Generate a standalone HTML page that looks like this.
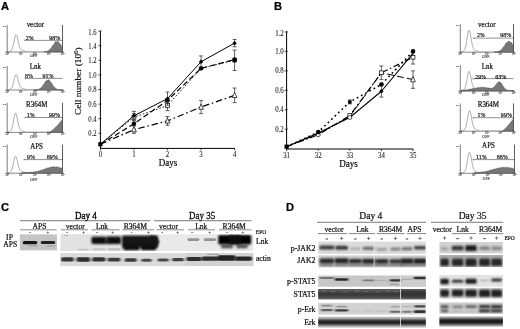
<!DOCTYPE html>
<html><head><meta charset="utf-8"><title>Figure</title>
<style>html,body{margin:0;padding:0;background:#fff}svg{display:block}</style></head>
<body>
<svg width="520" height="329" viewBox="0 0 520 329">
<defs>
<filter id="b1" x="-20%" y="-100%" width="140%" height="300%"><feGaussianBlur stdDeviation="0.7 0.5"/></filter>
<filter id="b2" x="-20%" y="-50%" width="140%" height="200%"><feGaussianBlur stdDeviation="0.9 0.8"/></filter>
<filter id="b4" x="-20%" y="-100%" width="140%" height="300%"><feGaussianBlur stdDeviation="0.9 0.65"/></filter>
<filter id="soft"><feGaussianBlur stdDeviation="0.32"/></filter>
</defs>
<rect width="520" height="329" fill="#fff"/>
<g filter="url(#soft)">
<text transform="translate(1.00,9.70) scale(1.05,1)" font-size="10.6" text-anchor="start" font-family="Liberation Sans, sans-serif" font-weight="bold" fill="#000" stroke="#000" stroke-width="0.22" >A</text>
<text transform="translate(274.00,9.70) scale(1.05,1)" font-size="10.6" text-anchor="start" font-family="Liberation Sans, sans-serif" font-weight="bold" fill="#000" stroke="#000" stroke-width="0.22" >B</text>
<text transform="translate(1.00,210.60) scale(1.05,1)" font-size="10.6" text-anchor="start" font-family="Liberation Sans, sans-serif" font-weight="bold" fill="#000" stroke="#000" stroke-width="0.22" >C</text>
<text transform="translate(286.00,210.60) scale(1.05,1)" font-size="10.6" text-anchor="start" font-family="Liberation Sans, sans-serif" font-weight="bold" fill="#000" stroke="#000" stroke-width="0.22" >D</text>
<line x1="7.20" y1="25.00" x2="7.20" y2="52.00" stroke="#444" stroke-width="0.7" />
<line x1="5.70" y1="52.00" x2="64.00" y2="52.00" stroke="#555" stroke-width="0.7" />
<line x1="62.50" y1="25.00" x2="62.50" y2="52.00" stroke="#333" stroke-width="0.8" />
<text x="3.00" y="27.20" font-size="2.8" text-anchor="start" font-family="Liberation Serif, serif" font-weight="normal" fill="#444" stroke="#444" stroke-width="0.1" >64</text>
<text x="7.20" y="54.90" font-size="3.0" text-anchor="middle" font-family="Liberation Serif, serif" font-weight="normal" fill="#444" stroke="#444" stroke-width="0.1" >10⁰</text>
<line x1="7.20" y1="52.00" x2="7.20" y2="52.90" stroke="#555" stroke-width="0.4" />
<text x="21.02" y="54.90" font-size="3.0" text-anchor="middle" font-family="Liberation Serif, serif" font-weight="normal" fill="#444" stroke="#444" stroke-width="0.1" >10¹</text>
<line x1="21.02" y1="52.00" x2="21.02" y2="52.90" stroke="#555" stroke-width="0.4" />
<text x="34.85" y="54.90" font-size="3.0" text-anchor="middle" font-family="Liberation Serif, serif" font-weight="normal" fill="#444" stroke="#444" stroke-width="0.1" >10²</text>
<line x1="34.85" y1="52.00" x2="34.85" y2="52.90" stroke="#555" stroke-width="0.4" />
<text x="48.67" y="54.90" font-size="3.0" text-anchor="middle" font-family="Liberation Serif, serif" font-weight="normal" fill="#444" stroke="#444" stroke-width="0.1" >10³</text>
<line x1="48.67" y1="52.00" x2="48.67" y2="52.90" stroke="#555" stroke-width="0.4" />
<text x="62.50" y="54.90" font-size="3.0" text-anchor="middle" font-family="Liberation Serif, serif" font-weight="normal" fill="#444" stroke="#444" stroke-width="0.1" >10⁴</text>
<line x1="62.50" y1="52.00" x2="62.50" y2="52.90" stroke="#555" stroke-width="0.4" />
<text x="33.85" y="57.00" font-size="3.9" text-anchor="middle" font-family="Liberation Serif, serif" font-weight="normal" fill="#333" stroke="#333" stroke-width="0.1" >GFP</text>
<polyline points="8.00,51.49 8.45,51.48 8.90,51.46 9.35,51.43 9.80,51.35 10.25,51.22 10.70,50.99 11.15,50.60 11.60,50.01 12.05,49.12 12.50,47.90 12.95,46.31 13.40,44.38 13.85,42.21 14.30,39.95 14.75,37.84 15.20,36.12 15.65,35.02 16.10,34.67 16.55,35.11 17.00,36.27 17.45,37.98 17.90,39.99 18.35,42.07 18.80,44.03 19.25,45.73 19.70,47.11 20.15,48.17 20.60,48.95 21.05,49.51 21.50,49.90 21.95,50.19 22.40,50.41 22.85,50.59 23.30,50.74 23.75,50.87 24.20,50.99 24.65,51.09 25.10,51.18 25.55,51.25 26.00,51.31" fill="none" stroke="#888" stroke-width="0.7"/>
<line x1="26.00" y1="51.40" x2="48.50" y2="51.40" stroke="#aaa" stroke-width="0.5" />
<polygon points="44.00,52.00 44.00,51.91 44.46,51.87 44.92,51.83 45.39,51.78 45.85,51.70 46.31,51.59 46.77,51.44 47.24,51.27 47.70,51.09 48.16,50.88 48.62,50.62 49.09,50.23 49.55,49.76 50.01,49.27 50.48,48.84 50.94,48.42 51.40,47.86 51.86,47.05 52.33,46.14 52.79,45.39 53.25,44.94 53.71,44.57 54.17,43.97 54.64,43.04 55.10,42.13 55.56,41.70 56.02,41.80 56.49,42.02 56.95,41.91 57.41,41.50 57.88,41.28 58.34,41.65 58.80,42.49 59.26,43.32 59.73,43.79 60.19,44.05 60.65,44.49 61.11,45.28 61.58,46.26 62.04,47.10 62.50,47.68 62.50,52.00" fill="#777" stroke="#444" stroke-width="0.5"/>
<line x1="24.40" y1="40.40" x2="62.50" y2="40.40" stroke="#222" stroke-width="0.5" />
<line x1="24.40" y1="39.60" x2="24.40" y2="41.20" stroke="#444" stroke-width="0.5" />
<text transform="translate(35.35,27.00) scale(0.92,1)" font-size="7.6" text-anchor="middle" font-family="Liberation Serif, serif" font-weight="normal" fill="#111" stroke="#111" stroke-width="0.22" >vector</text>
<text transform="translate(29.60,39.50) scale(0.9,1)" font-size="6.5" text-anchor="middle" font-family="Liberation Serif, serif" font-weight="normal" fill="#111" stroke="#111" stroke-width="0.22" >2%</text>
<text transform="translate(54.80,39.50) scale(0.93,1)" font-size="6.5" text-anchor="middle" font-family="Liberation Serif, serif" font-weight="normal" fill="#111" stroke="#111" stroke-width="0.22" >98%</text>
<line x1="7.20" y1="66.00" x2="7.20" y2="90.00" stroke="#444" stroke-width="0.7" />
<line x1="5.70" y1="90.00" x2="64.00" y2="90.00" stroke="#555" stroke-width="0.7" />
<text x="3.00" y="68.20" font-size="2.8" text-anchor="start" font-family="Liberation Serif, serif" font-weight="normal" fill="#444" stroke="#444" stroke-width="0.1" >64</text>
<text x="7.20" y="92.90" font-size="3.0" text-anchor="middle" font-family="Liberation Serif, serif" font-weight="normal" fill="#444" stroke="#444" stroke-width="0.1" >10⁰</text>
<line x1="7.20" y1="90.00" x2="7.20" y2="90.90" stroke="#555" stroke-width="0.4" />
<text x="21.02" y="92.90" font-size="3.0" text-anchor="middle" font-family="Liberation Serif, serif" font-weight="normal" fill="#444" stroke="#444" stroke-width="0.1" >10¹</text>
<line x1="21.02" y1="90.00" x2="21.02" y2="90.90" stroke="#555" stroke-width="0.4" />
<text x="34.85" y="92.90" font-size="3.0" text-anchor="middle" font-family="Liberation Serif, serif" font-weight="normal" fill="#444" stroke="#444" stroke-width="0.1" >10²</text>
<line x1="34.85" y1="90.00" x2="34.85" y2="90.90" stroke="#555" stroke-width="0.4" />
<text x="48.67" y="92.90" font-size="3.0" text-anchor="middle" font-family="Liberation Serif, serif" font-weight="normal" fill="#444" stroke="#444" stroke-width="0.1" >10³</text>
<line x1="48.67" y1="90.00" x2="48.67" y2="90.90" stroke="#555" stroke-width="0.4" />
<text x="62.50" y="92.90" font-size="3.0" text-anchor="middle" font-family="Liberation Serif, serif" font-weight="normal" fill="#444" stroke="#444" stroke-width="0.1" >10⁴</text>
<line x1="62.50" y1="90.00" x2="62.50" y2="90.90" stroke="#555" stroke-width="0.4" />
<text x="33.85" y="95.60" font-size="3.9" text-anchor="middle" font-family="Liberation Serif, serif" font-weight="normal" fill="#333" stroke="#333" stroke-width="0.1" >GFP</text>
<polyline points="8.00,89.49 8.45,89.48 8.90,89.47 9.35,89.43 9.80,89.37 10.25,89.25 10.70,89.05 11.15,88.71 11.60,88.18 12.05,87.41 12.50,86.34 12.95,84.94 13.40,83.24 13.85,81.33 14.30,79.34 14.75,77.49 15.20,75.97 15.65,74.99 16.10,74.66 16.55,75.04 17.00,76.04 17.45,77.51 17.90,79.26 18.35,81.07 18.80,82.78 19.25,84.27 19.70,85.47 20.15,86.40 20.60,87.09 21.05,87.59 21.50,87.95 21.95,88.21 22.40,88.42 22.85,88.59 23.30,88.74 23.75,88.87 24.20,88.99 24.65,89.09 25.10,89.18 25.55,89.25 26.00,89.31" fill="none" stroke="#888" stroke-width="0.7"/>
<line x1="26.00" y1="89.40" x2="48.50" y2="89.40" stroke="#aaa" stroke-width="0.5" />
<polygon points="34.00,90.00 34.00,89.98 34.71,89.96 35.42,89.93 36.14,89.87 36.85,89.79 37.56,89.67 38.27,89.50 38.99,89.20 39.70,88.79 40.41,88.35 41.12,87.81 41.84,86.96 42.55,85.89 43.26,84.99 43.98,84.20 44.69,83.01 45.40,81.62 46.11,80.87 46.83,80.73 47.54,80.32 48.25,79.73 48.96,79.99 49.67,81.06 50.39,81.91 51.10,82.45 51.81,83.42 52.52,84.80 53.24,85.92 53.95,86.67 54.66,87.40 55.38,88.18 56.09,88.76 56.80,89.11 57.51,89.39 58.23,89.62 58.94,89.77 59.65,89.86 60.36,89.91 61.08,89.95 61.79,89.97 62.50,89.99 62.50,90.00" fill="#777" stroke="#444" stroke-width="0.5"/>
<line x1="25.00" y1="78.40" x2="62.50" y2="78.40" stroke="#222" stroke-width="0.5" />
<line x1="25.00" y1="77.60" x2="25.00" y2="79.20" stroke="#444" stroke-width="0.5" />
<text transform="translate(35.35,68.60) scale(0.92,1)" font-size="7.6" text-anchor="middle" font-family="Liberation Serif, serif" font-weight="normal" fill="#111" stroke="#111" stroke-width="0.22" >Lnk</text>
<text transform="translate(29.00,78.30) scale(0.9,1)" font-size="6.5" text-anchor="middle" font-family="Liberation Serif, serif" font-weight="normal" fill="#111" stroke="#111" stroke-width="0.22" >8%</text>
<text transform="translate(48.00,78.30) scale(0.93,1)" font-size="6.5" text-anchor="middle" font-family="Liberation Serif, serif" font-weight="normal" fill="#111" stroke="#111" stroke-width="0.22" >91%</text>
<line x1="7.20" y1="102.80" x2="7.20" y2="132.40" stroke="#444" stroke-width="0.7" />
<line x1="5.70" y1="132.40" x2="64.00" y2="132.40" stroke="#555" stroke-width="0.7" />
<line x1="62.50" y1="102.80" x2="62.50" y2="132.40" stroke="#333" stroke-width="0.8" />
<text x="3.00" y="105.00" font-size="2.8" text-anchor="start" font-family="Liberation Serif, serif" font-weight="normal" fill="#444" stroke="#444" stroke-width="0.1" >64</text>
<text x="7.20" y="135.30" font-size="3.0" text-anchor="middle" font-family="Liberation Serif, serif" font-weight="normal" fill="#444" stroke="#444" stroke-width="0.1" >10⁰</text>
<line x1="7.20" y1="132.40" x2="7.20" y2="133.30" stroke="#555" stroke-width="0.4" />
<text x="21.02" y="135.30" font-size="3.0" text-anchor="middle" font-family="Liberation Serif, serif" font-weight="normal" fill="#444" stroke="#444" stroke-width="0.1" >10¹</text>
<line x1="21.02" y1="132.40" x2="21.02" y2="133.30" stroke="#555" stroke-width="0.4" />
<text x="34.85" y="135.30" font-size="3.0" text-anchor="middle" font-family="Liberation Serif, serif" font-weight="normal" fill="#444" stroke="#444" stroke-width="0.1" >10²</text>
<line x1="34.85" y1="132.40" x2="34.85" y2="133.30" stroke="#555" stroke-width="0.4" />
<text x="48.67" y="135.30" font-size="3.0" text-anchor="middle" font-family="Liberation Serif, serif" font-weight="normal" fill="#444" stroke="#444" stroke-width="0.1" >10³</text>
<line x1="48.67" y1="132.40" x2="48.67" y2="133.30" stroke="#555" stroke-width="0.4" />
<text x="62.50" y="135.30" font-size="3.0" text-anchor="middle" font-family="Liberation Serif, serif" font-weight="normal" fill="#444" stroke="#444" stroke-width="0.1" >10⁴</text>
<line x1="62.50" y1="132.40" x2="62.50" y2="133.30" stroke="#555" stroke-width="0.4" />
<text x="33.85" y="137.80" font-size="3.9" text-anchor="middle" font-family="Liberation Serif, serif" font-weight="normal" fill="#333" stroke="#333" stroke-width="0.1" >GFP</text>
<polyline points="8.00,131.88 8.44,131.86 8.88,131.82 9.31,131.74 9.75,131.59 10.19,131.34 10.62,130.93 11.06,130.30 11.50,129.38 11.94,128.11 12.38,126.44 12.81,124.41 13.25,122.09 13.69,119.65 14.12,117.30 14.56,115.29 15.00,113.86 15.44,113.20 15.88,113.38 16.31,114.36 16.75,116.00 17.19,118.08 17.62,120.35 18.06,122.59 18.50,124.61 18.94,126.31 19.38,127.67 19.81,128.70 20.25,129.44 20.69,129.98 21.12,130.35 21.56,130.63 22.00,130.84 22.44,131.01 22.88,131.16 23.31,131.29 23.75,131.40 24.19,131.50 24.62,131.58 25.06,131.65 25.50,131.71" fill="none" stroke="#888" stroke-width="0.7"/>
<line x1="25.50" y1="131.80" x2="48.50" y2="131.80" stroke="#aaa" stroke-width="0.5" />
<polygon points="47.00,132.40 47.00,132.00 47.39,132.00 47.77,132.00 48.16,132.00 48.55,132.00 48.94,132.00 49.33,132.00 49.71,131.94 50.10,131.77 50.49,131.56 50.88,131.32 51.26,131.06 51.65,130.79 52.04,130.49 52.42,130.19 52.81,129.87 53.20,129.54 53.59,129.20 53.98,128.85 54.36,128.49 54.75,128.12 55.14,127.75 55.52,127.36 55.91,126.97 56.30,126.57 56.69,126.17 57.08,125.76 57.46,125.34 57.85,124.91 58.24,124.48 58.62,124.05 59.01,123.60 59.40,123.16 59.79,122.71 60.17,122.25 60.56,121.78 60.95,121.32 61.34,120.84 61.73,120.37 62.11,119.89 62.50,119.40 62.50,132.40" fill="#777" stroke="#444" stroke-width="0.5"/>
<line x1="25.00" y1="117.50" x2="62.50" y2="117.50" stroke="#222" stroke-width="0.5" />
<line x1="25.00" y1="116.70" x2="25.00" y2="118.30" stroke="#444" stroke-width="0.5" />
<text transform="translate(36.75,107.00) scale(0.92,1)" font-size="7.6" text-anchor="middle" font-family="Liberation Serif, serif" font-weight="normal" fill="#111" stroke="#111" stroke-width="0.22" >R364M</text>
<text transform="translate(30.60,116.60) scale(0.9,1)" font-size="6.5" text-anchor="middle" font-family="Liberation Serif, serif" font-weight="normal" fill="#111" stroke="#111" stroke-width="0.22" >1%</text>
<text transform="translate(54.60,116.60) scale(0.93,1)" font-size="6.5" text-anchor="middle" font-family="Liberation Serif, serif" font-weight="normal" fill="#111" stroke="#111" stroke-width="0.22" >99%</text>
<line x1="7.20" y1="144.60" x2="7.20" y2="173.20" stroke="#444" stroke-width="0.7" />
<line x1="5.70" y1="173.20" x2="64.00" y2="173.20" stroke="#555" stroke-width="0.7" />
<line x1="62.50" y1="144.60" x2="62.50" y2="173.20" stroke="#333" stroke-width="0.8" />
<text x="3.00" y="146.80" font-size="2.8" text-anchor="start" font-family="Liberation Serif, serif" font-weight="normal" fill="#444" stroke="#444" stroke-width="0.1" >64</text>
<text x="7.20" y="176.10" font-size="3.0" text-anchor="middle" font-family="Liberation Serif, serif" font-weight="normal" fill="#444" stroke="#444" stroke-width="0.1" >10⁰</text>
<line x1="7.20" y1="173.20" x2="7.20" y2="174.10" stroke="#555" stroke-width="0.4" />
<text x="21.02" y="176.10" font-size="3.0" text-anchor="middle" font-family="Liberation Serif, serif" font-weight="normal" fill="#444" stroke="#444" stroke-width="0.1" >10¹</text>
<line x1="21.02" y1="173.20" x2="21.02" y2="174.10" stroke="#555" stroke-width="0.4" />
<text x="34.85" y="176.10" font-size="3.0" text-anchor="middle" font-family="Liberation Serif, serif" font-weight="normal" fill="#444" stroke="#444" stroke-width="0.1" >10²</text>
<line x1="34.85" y1="173.20" x2="34.85" y2="174.10" stroke="#555" stroke-width="0.4" />
<text x="48.67" y="176.10" font-size="3.0" text-anchor="middle" font-family="Liberation Serif, serif" font-weight="normal" fill="#444" stroke="#444" stroke-width="0.1" >10³</text>
<line x1="48.67" y1="173.20" x2="48.67" y2="174.10" stroke="#555" stroke-width="0.4" />
<text x="62.50" y="176.10" font-size="3.0" text-anchor="middle" font-family="Liberation Serif, serif" font-weight="normal" fill="#444" stroke="#444" stroke-width="0.1" >10⁴</text>
<line x1="62.50" y1="173.20" x2="62.50" y2="174.10" stroke="#555" stroke-width="0.4" />
<text x="33.85" y="180.60" font-size="3.9" text-anchor="middle" font-family="Liberation Serif, serif" font-weight="normal" fill="#333" stroke="#333" stroke-width="0.1" >GFP</text>
<polyline points="8.00,172.68 8.44,172.66 8.88,172.62 9.31,172.55 9.75,172.43 10.19,172.21 10.62,171.85 11.06,171.29 11.50,170.48 11.94,169.36 12.38,167.89 12.81,166.10 13.25,164.06 13.69,161.91 14.12,159.83 14.56,158.06 15.00,156.80 15.44,156.20 15.88,156.34 16.31,157.19 16.75,158.61 17.19,160.42 17.62,162.40 18.06,164.35 18.50,166.12 18.94,167.62 19.38,168.81 19.81,169.71 20.25,170.37 20.69,170.85 21.12,171.20 21.56,171.45 22.00,171.65 22.44,171.82 22.88,171.96 23.31,172.09 23.75,172.20 24.19,172.30 24.62,172.38 25.06,172.45 25.50,172.51" fill="none" stroke="#888" stroke-width="0.7"/>
<line x1="25.50" y1="172.60" x2="48.50" y2="172.60" stroke="#aaa" stroke-width="0.5" />
<polygon points="22.00,173.20 22.00,172.57 23.01,172.88 24.02,172.33 25.04,172.97 26.05,172.27 27.06,172.82 28.07,172.39 29.09,172.47 30.10,172.54 31.11,172.07 32.12,172.55 33.14,171.76 34.15,172.28 35.16,171.58 36.17,171.72 37.19,171.45 38.20,170.99 39.21,171.18 40.23,170.26 41.24,170.64 42.25,169.67 43.26,169.80 44.27,169.20 45.29,168.82 46.30,168.77 47.31,167.91 48.33,168.25 49.34,167.29 50.35,167.64 51.36,167.03 52.38,167.04 53.39,167.06 54.40,166.66 55.41,167.25 56.42,166.66 57.44,167.46 58.45,167.10 59.46,167.68 60.48,167.88 61.49,167.99 62.50,168.76 62.50,173.20" fill="#777" stroke="#444" stroke-width="0.5"/>
<line x1="24.00" y1="159.60" x2="62.50" y2="159.60" stroke="#222" stroke-width="0.5" />
<line x1="24.00" y1="158.80" x2="24.00" y2="160.40" stroke="#444" stroke-width="0.5" />
<text transform="translate(36.55,148.60) scale(0.92,1)" font-size="7.6" text-anchor="middle" font-family="Liberation Serif, serif" font-weight="normal" fill="#111" stroke="#111" stroke-width="0.22" >APS</text>
<text transform="translate(31.00,158.70) scale(0.9,1)" font-size="6.5" text-anchor="middle" font-family="Liberation Serif, serif" font-weight="normal" fill="#111" stroke="#111" stroke-width="0.22" >9%</text>
<text transform="translate(52.20,158.70) scale(0.93,1)" font-size="6.5" text-anchor="middle" font-family="Liberation Serif, serif" font-weight="normal" fill="#111" stroke="#111" stroke-width="0.22" >89%</text>
<line x1="460.30" y1="24.00" x2="460.30" y2="52.20" stroke="#444" stroke-width="0.7" />
<line x1="458.80" y1="52.20" x2="515.00" y2="52.20" stroke="#555" stroke-width="0.7" />
<line x1="513.50" y1="24.00" x2="513.50" y2="52.20" stroke="#333" stroke-width="0.8" />
<text x="456.10" y="26.20" font-size="2.8" text-anchor="start" font-family="Liberation Serif, serif" font-weight="normal" fill="#444" stroke="#444" stroke-width="0.1" >64</text>
<text x="460.30" y="55.10" font-size="3.0" text-anchor="middle" font-family="Liberation Serif, serif" font-weight="normal" fill="#444" stroke="#444" stroke-width="0.1" >10⁰</text>
<line x1="460.30" y1="52.20" x2="460.30" y2="53.10" stroke="#555" stroke-width="0.4" />
<text x="473.60" y="55.10" font-size="3.0" text-anchor="middle" font-family="Liberation Serif, serif" font-weight="normal" fill="#444" stroke="#444" stroke-width="0.1" >10¹</text>
<line x1="473.60" y1="52.20" x2="473.60" y2="53.10" stroke="#555" stroke-width="0.4" />
<text x="486.90" y="55.10" font-size="3.0" text-anchor="middle" font-family="Liberation Serif, serif" font-weight="normal" fill="#444" stroke="#444" stroke-width="0.1" >10²</text>
<line x1="486.90" y1="52.20" x2="486.90" y2="53.10" stroke="#555" stroke-width="0.4" />
<text x="500.20" y="55.10" font-size="3.0" text-anchor="middle" font-family="Liberation Serif, serif" font-weight="normal" fill="#444" stroke="#444" stroke-width="0.1" >10³</text>
<line x1="500.20" y1="52.20" x2="500.20" y2="53.10" stroke="#555" stroke-width="0.4" />
<text x="513.50" y="55.10" font-size="3.0" text-anchor="middle" font-family="Liberation Serif, serif" font-weight="normal" fill="#444" stroke="#444" stroke-width="0.1" >10⁴</text>
<line x1="513.50" y1="52.20" x2="513.50" y2="53.10" stroke="#555" stroke-width="0.4" />
<text x="485.90" y="58.10" font-size="3.9" text-anchor="middle" font-family="Liberation Serif, serif" font-weight="normal" fill="#333" stroke="#333" stroke-width="0.1" >GFP</text>
<polyline points="461.10,51.69 461.55,51.68 462.00,51.65 462.44,51.59 462.89,51.49 463.34,51.30 463.79,50.98 464.23,50.44 464.68,49.63 465.13,48.43 465.58,46.80 466.02,44.71 466.47,42.19 466.92,39.39 467.37,36.54 467.81,33.92 468.26,31.84 468.71,30.58 469.16,30.29 469.60,31.02 470.05,32.63 470.50,34.90 470.94,37.53 471.39,40.21 471.84,42.72 472.29,44.87 472.74,46.60 473.18,47.92 473.63,48.88 474.08,49.55 474.53,50.02 474.97,50.35 475.42,50.59 475.87,50.78 476.31,50.94 476.76,51.07 477.21,51.19 477.66,51.29 478.11,51.38 478.55,51.45 479.00,51.51" fill="none" stroke="#888" stroke-width="0.7"/>
<line x1="479.00" y1="51.60" x2="499.50" y2="51.60" stroke="#aaa" stroke-width="0.5" />
<polygon points="494.00,52.20 494.00,52.16 494.49,52.14 494.98,52.12 495.46,52.08 495.95,52.04 496.44,51.98 496.93,51.91 497.41,51.80 497.90,51.67 498.39,51.52 498.88,51.35 499.36,51.14 499.85,50.84 500.34,50.47 500.82,50.07 501.31,49.69 501.80,49.29 502.29,48.74 502.77,48.01 503.26,47.23 503.75,46.61 504.24,46.15 504.73,45.60 505.21,44.75 505.70,43.71 506.19,42.94 506.68,42.67 507.16,42.63 507.65,42.29 508.14,41.58 508.62,40.98 509.11,41.03 509.60,41.63 510.09,42.18 510.57,42.32 511.06,42.27 511.55,42.59 512.04,43.45 512.52,44.47 513.01,45.23 513.50,45.70 513.50,52.20" fill="#777" stroke="#444" stroke-width="0.5"/>
<line x1="473.50" y1="38.10" x2="513.50" y2="38.10" stroke="#222" stroke-width="0.5" />
<line x1="473.50" y1="37.30" x2="473.50" y2="38.90" stroke="#444" stroke-width="0.5" />
<text transform="translate(486.80,27.00) scale(0.92,1)" font-size="7.6" text-anchor="middle" font-family="Liberation Serif, serif" font-weight="normal" fill="#111" stroke="#111" stroke-width="0.22" >vector</text>
<text transform="translate(480.80,37.20) scale(0.9,1)" font-size="6.5" text-anchor="middle" font-family="Liberation Serif, serif" font-weight="normal" fill="#111" stroke="#111" stroke-width="0.22" >2%</text>
<text transform="translate(505.80,37.20) scale(0.93,1)" font-size="6.5" text-anchor="middle" font-family="Liberation Serif, serif" font-weight="normal" fill="#111" stroke="#111" stroke-width="0.22" >98%</text>
<line x1="460.30" y1="65.00" x2="460.30" y2="91.00" stroke="#444" stroke-width="0.7" />
<line x1="458.80" y1="91.00" x2="515.00" y2="91.00" stroke="#555" stroke-width="0.7" />
<text x="456.10" y="67.20" font-size="2.8" text-anchor="start" font-family="Liberation Serif, serif" font-weight="normal" fill="#444" stroke="#444" stroke-width="0.1" >64</text>
<text x="460.30" y="93.90" font-size="3.0" text-anchor="middle" font-family="Liberation Serif, serif" font-weight="normal" fill="#444" stroke="#444" stroke-width="0.1" >10⁰</text>
<line x1="460.30" y1="91.00" x2="460.30" y2="91.90" stroke="#555" stroke-width="0.4" />
<text x="473.60" y="93.90" font-size="3.0" text-anchor="middle" font-family="Liberation Serif, serif" font-weight="normal" fill="#444" stroke="#444" stroke-width="0.1" >10¹</text>
<line x1="473.60" y1="91.00" x2="473.60" y2="91.90" stroke="#555" stroke-width="0.4" />
<text x="486.90" y="93.90" font-size="3.0" text-anchor="middle" font-family="Liberation Serif, serif" font-weight="normal" fill="#444" stroke="#444" stroke-width="0.1" >10²</text>
<line x1="486.90" y1="91.00" x2="486.90" y2="91.90" stroke="#555" stroke-width="0.4" />
<text x="500.20" y="93.90" font-size="3.0" text-anchor="middle" font-family="Liberation Serif, serif" font-weight="normal" fill="#444" stroke="#444" stroke-width="0.1" >10³</text>
<line x1="500.20" y1="91.00" x2="500.20" y2="91.90" stroke="#555" stroke-width="0.4" />
<text x="513.50" y="93.90" font-size="3.0" text-anchor="middle" font-family="Liberation Serif, serif" font-weight="normal" fill="#444" stroke="#444" stroke-width="0.1" >10⁴</text>
<line x1="513.50" y1="91.00" x2="513.50" y2="91.90" stroke="#555" stroke-width="0.4" />
<text x="485.90" y="96.40" font-size="3.9" text-anchor="middle" font-family="Liberation Serif, serif" font-weight="normal" fill="#333" stroke="#333" stroke-width="0.1" >GFP</text>
<polyline points="461.10,90.49 461.55,90.48 462.00,90.45 462.44,90.40 462.89,90.31 463.34,90.14 463.79,89.85 464.23,89.38 464.68,88.65 465.13,87.59 465.58,86.13 466.02,84.26 466.47,82.02 466.92,79.53 467.37,76.98 467.81,74.64 468.26,72.79 468.71,71.65 469.16,71.39 469.60,72.02 470.05,73.44 470.50,75.44 470.94,77.76 471.39,80.14 471.84,82.35 472.29,84.26 472.74,85.80 473.18,86.98 473.63,87.84 474.08,88.44 474.53,88.87 474.97,89.18 475.42,89.40 475.87,89.59 476.31,89.74 476.76,89.87 477.21,89.99 477.66,90.09 478.11,90.18 478.55,90.25 479.00,90.31" fill="none" stroke="#888" stroke-width="0.7"/>
<line x1="479.00" y1="90.40" x2="499.50" y2="90.40" stroke="#aaa" stroke-width="0.5" />
<polygon points="461.00,91.00 461.00,90.37 462.31,90.33 463.62,90.19 464.94,90.07 466.25,89.92 467.56,89.68 468.88,89.56 470.19,89.15 471.50,89.12 472.81,88.52 474.12,88.64 475.44,87.89 476.75,88.18 478.06,87.40 479.38,87.83 480.69,87.15 482.00,87.67 483.31,87.20 484.62,87.74 485.94,87.52 487.25,88.02 488.56,88.02 489.88,88.37 491.19,88.33 492.50,88.13 493.81,87.33 495.12,85.95 496.44,84.16 497.75,82.52 499.06,81.80 500.38,82.35 501.69,84.03 503.00,86.13 504.31,88.02 505.62,89.32 506.94,90.05 508.25,90.39 509.56,90.52 510.88,90.57 512.19,90.59 513.50,90.59 513.50,91.00" fill="#777" stroke="#444" stroke-width="0.5"/>
<line x1="473.00" y1="78.60" x2="513.50" y2="78.60" stroke="#222" stroke-width="0.5" />
<line x1="473.00" y1="77.80" x2="473.00" y2="79.40" stroke="#444" stroke-width="0.5" />
<text transform="translate(487.40,68.60) scale(0.92,1)" font-size="7.6" text-anchor="middle" font-family="Liberation Serif, serif" font-weight="normal" fill="#111" stroke="#111" stroke-width="0.22" >Lnk</text>
<text transform="translate(480.60,78.50) scale(0.9,1)" font-size="6.5" text-anchor="middle" font-family="Liberation Serif, serif" font-weight="normal" fill="#111" stroke="#111" stroke-width="0.22" >29%</text>
<text transform="translate(500.80,78.50) scale(0.93,1)" font-size="6.5" text-anchor="middle" font-family="Liberation Serif, serif" font-weight="normal" fill="#111" stroke="#111" stroke-width="0.22" >63%</text>
<line x1="460.30" y1="103.40" x2="460.30" y2="131.20" stroke="#444" stroke-width="0.7" />
<line x1="458.80" y1="131.20" x2="515.00" y2="131.20" stroke="#555" stroke-width="0.7" />
<line x1="513.50" y1="103.40" x2="513.50" y2="131.20" stroke="#333" stroke-width="0.8" />
<text x="456.10" y="105.60" font-size="2.8" text-anchor="start" font-family="Liberation Serif, serif" font-weight="normal" fill="#444" stroke="#444" stroke-width="0.1" >64</text>
<text x="460.30" y="134.10" font-size="3.0" text-anchor="middle" font-family="Liberation Serif, serif" font-weight="normal" fill="#444" stroke="#444" stroke-width="0.1" >10⁰</text>
<line x1="460.30" y1="131.20" x2="460.30" y2="132.10" stroke="#555" stroke-width="0.4" />
<text x="473.60" y="134.10" font-size="3.0" text-anchor="middle" font-family="Liberation Serif, serif" font-weight="normal" fill="#444" stroke="#444" stroke-width="0.1" >10¹</text>
<line x1="473.60" y1="131.20" x2="473.60" y2="132.10" stroke="#555" stroke-width="0.4" />
<text x="486.90" y="134.10" font-size="3.0" text-anchor="middle" font-family="Liberation Serif, serif" font-weight="normal" fill="#444" stroke="#444" stroke-width="0.1" >10²</text>
<line x1="486.90" y1="131.20" x2="486.90" y2="132.10" stroke="#555" stroke-width="0.4" />
<text x="500.20" y="134.10" font-size="3.0" text-anchor="middle" font-family="Liberation Serif, serif" font-weight="normal" fill="#444" stroke="#444" stroke-width="0.1" >10³</text>
<line x1="500.20" y1="131.20" x2="500.20" y2="132.10" stroke="#555" stroke-width="0.4" />
<text x="513.50" y="134.10" font-size="3.0" text-anchor="middle" font-family="Liberation Serif, serif" font-weight="normal" fill="#444" stroke="#444" stroke-width="0.1" >10⁴</text>
<line x1="513.50" y1="131.20" x2="513.50" y2="132.10" stroke="#555" stroke-width="0.4" />
<text x="485.90" y="137.90" font-size="3.9" text-anchor="middle" font-family="Liberation Serif, serif" font-weight="normal" fill="#333" stroke="#333" stroke-width="0.1" >GFP</text>
<polyline points="461.10,130.70 461.56,130.69 462.02,130.68 462.48,130.65 462.94,130.60 463.40,130.50 463.86,130.31 464.32,129.99 464.78,129.46 465.24,128.63 465.70,127.43 466.16,125.79 466.62,123.69 467.08,121.20 467.54,118.47 468.00,115.76 468.46,113.38 468.92,111.63 469.38,110.74 469.84,110.85 470.30,111.93 470.76,113.78 471.22,116.15 471.68,118.72 472.14,121.22 472.60,123.44 473.06,125.26 473.52,126.67 473.98,127.71 474.44,128.44 474.90,128.94 475.36,129.29 475.82,129.55 476.28,129.75 476.74,129.91 477.20,130.05 477.66,130.18 478.12,130.28 478.58,130.37 479.04,130.45 479.50,130.51" fill="none" stroke="#888" stroke-width="0.7"/>
<line x1="479.50" y1="130.60" x2="499.50" y2="130.60" stroke="#aaa" stroke-width="0.5" />
<polygon points="501.00,131.20 501.00,131.20 501.31,131.20 501.62,131.20 501.94,131.20 502.25,131.10 502.56,130.91 502.88,130.70 503.19,130.47 503.50,130.22 503.81,129.96 504.12,129.69 504.44,129.40 504.75,129.11 505.06,128.81 505.38,128.50 505.69,128.18 506.00,127.86 506.31,127.53 506.62,127.20 506.94,126.86 507.25,126.51 507.56,126.16 507.88,125.80 508.19,125.44 508.50,125.07 508.81,124.70 509.12,124.33 509.44,123.95 509.75,123.57 510.06,123.18 510.38,122.79 510.69,122.40 511.00,122.00 511.31,121.60 511.62,121.19 511.94,120.79 512.25,120.37 512.56,119.96 512.88,119.54 513.19,119.12 513.50,118.70 513.50,131.20" fill="#777" stroke="#444" stroke-width="0.5"/>
<line x1="473.00" y1="117.70" x2="513.50" y2="117.70" stroke="#222" stroke-width="0.5" />
<line x1="473.00" y1="116.90" x2="473.00" y2="118.50" stroke="#444" stroke-width="0.5" />
<text transform="translate(488.40,106.70) scale(0.92,1)" font-size="7.6" text-anchor="middle" font-family="Liberation Serif, serif" font-weight="normal" fill="#111" stroke="#111" stroke-width="0.22" >R364M</text>
<text transform="translate(481.50,116.80) scale(0.9,1)" font-size="6.5" text-anchor="middle" font-family="Liberation Serif, serif" font-weight="normal" fill="#111" stroke="#111" stroke-width="0.22" >1%</text>
<text transform="translate(506.40,116.80) scale(0.93,1)" font-size="6.5" text-anchor="middle" font-family="Liberation Serif, serif" font-weight="normal" fill="#111" stroke="#111" stroke-width="0.22" >99%</text>
<line x1="460.30" y1="144.60" x2="460.30" y2="173.30" stroke="#444" stroke-width="0.7" />
<line x1="458.80" y1="173.30" x2="516.00" y2="173.30" stroke="#555" stroke-width="0.7" />
<line x1="514.50" y1="144.60" x2="514.50" y2="173.30" stroke="#333" stroke-width="0.8" />
<text x="456.10" y="146.80" font-size="2.8" text-anchor="start" font-family="Liberation Serif, serif" font-weight="normal" fill="#444" stroke="#444" stroke-width="0.1" >64</text>
<text x="460.30" y="176.20" font-size="3.0" text-anchor="middle" font-family="Liberation Serif, serif" font-weight="normal" fill="#444" stroke="#444" stroke-width="0.1" >10⁰</text>
<line x1="460.30" y1="173.30" x2="460.30" y2="174.20" stroke="#555" stroke-width="0.4" />
<text x="473.85" y="176.20" font-size="3.0" text-anchor="middle" font-family="Liberation Serif, serif" font-weight="normal" fill="#444" stroke="#444" stroke-width="0.1" >10¹</text>
<line x1="473.85" y1="173.30" x2="473.85" y2="174.20" stroke="#555" stroke-width="0.4" />
<text x="487.40" y="176.20" font-size="3.0" text-anchor="middle" font-family="Liberation Serif, serif" font-weight="normal" fill="#444" stroke="#444" stroke-width="0.1" >10²</text>
<line x1="487.40" y1="173.30" x2="487.40" y2="174.20" stroke="#555" stroke-width="0.4" />
<text x="500.95" y="176.20" font-size="3.0" text-anchor="middle" font-family="Liberation Serif, serif" font-weight="normal" fill="#444" stroke="#444" stroke-width="0.1" >10³</text>
<line x1="500.95" y1="173.30" x2="500.95" y2="174.20" stroke="#555" stroke-width="0.4" />
<text x="514.50" y="176.20" font-size="3.0" text-anchor="middle" font-family="Liberation Serif, serif" font-weight="normal" fill="#444" stroke="#444" stroke-width="0.1" >10⁴</text>
<line x1="514.50" y1="173.30" x2="514.50" y2="174.20" stroke="#555" stroke-width="0.4" />
<text x="486.40" y="180.00" font-size="3.9" text-anchor="middle" font-family="Liberation Serif, serif" font-weight="normal" fill="#333" stroke="#333" stroke-width="0.1" >GFP</text>
<polyline points="461.10,172.80 461.56,172.79 462.02,172.78 462.48,172.75 462.94,172.70 463.40,172.60 463.86,172.41 464.32,172.07 464.78,171.53 465.24,170.68 465.70,169.45 466.16,167.76 466.62,165.61 467.08,163.05 467.54,160.26 468.00,157.49 468.46,155.04 468.92,153.25 469.38,152.34 469.84,152.46 470.30,153.56 470.76,155.47 471.22,157.90 471.68,160.55 472.14,163.11 472.60,165.39 473.06,167.26 473.52,168.71 473.98,169.77 474.44,170.51 474.90,171.03 475.36,171.39 475.82,171.65 476.28,171.85 476.74,172.01 477.20,172.15 477.66,172.28 478.12,172.38 478.58,172.47 479.04,172.55 479.50,172.61" fill="none" stroke="#888" stroke-width="0.7"/>
<line x1="479.50" y1="172.70" x2="500.50" y2="172.70" stroke="#aaa" stroke-width="0.5" />
<polygon points="474.00,173.30 474.00,173.08 475.01,172.55 476.02,172.80 477.04,172.64 478.05,172.42 479.06,172.69 480.07,172.07 481.09,172.53 482.10,171.83 483.11,172.12 484.12,171.70 485.14,171.53 486.15,171.53 487.16,170.89 488.18,171.20 489.19,170.36 490.20,170.62 491.21,169.96 492.23,169.86 493.24,169.62 494.25,169.06 495.26,169.24 496.27,168.40 497.29,168.73 498.30,167.99 499.31,168.11 500.32,167.81 501.34,167.53 502.35,167.75 503.36,167.17 504.38,167.71 505.39,167.14 506.40,167.63 507.41,167.43 508.43,167.59 509.44,167.92 510.45,167.71 511.46,168.45 512.48,168.09 513.49,168.89 514.50,168.75 514.50,173.30" fill="#777" stroke="#444" stroke-width="0.5"/>
<line x1="473.00" y1="159.60" x2="514.50" y2="159.60" stroke="#222" stroke-width="0.5" />
<line x1="473.00" y1="158.80" x2="473.00" y2="160.40" stroke="#444" stroke-width="0.5" />
<text transform="translate(488.50,148.40) scale(0.92,1)" font-size="7.6" text-anchor="middle" font-family="Liberation Serif, serif" font-weight="normal" fill="#111" stroke="#111" stroke-width="0.22" >APS</text>
<text transform="translate(481.30,158.70) scale(0.9,1)" font-size="6.5" text-anchor="middle" font-family="Liberation Serif, serif" font-weight="normal" fill="#111" stroke="#111" stroke-width="0.22" >11%</text>
<text transform="translate(502.20,158.70) scale(0.93,1)" font-size="6.5" text-anchor="middle" font-family="Liberation Serif, serif" font-weight="normal" fill="#111" stroke="#111" stroke-width="0.22" >88%</text>
<line x1="100.40" y1="30.80" x2="100.40" y2="148.80" stroke="#000" stroke-width="1.0" />
<line x1="100.00" y1="148.40" x2="234.90" y2="148.40" stroke="#000" stroke-width="1.0" />
<line x1="98.40" y1="133.30" x2="101.40" y2="133.30" stroke="#000" stroke-width="0.7" />
<text transform="translate(96.60,136.10) scale(0.92,1)" font-size="7.2" text-anchor="end" font-family="Liberation Serif, serif" font-weight="normal" fill="#111" stroke="#111" stroke-width="0.05" >0.2</text>
<line x1="98.40" y1="118.70" x2="101.40" y2="118.70" stroke="#000" stroke-width="0.7" />
<text transform="translate(96.60,121.50) scale(0.92,1)" font-size="7.2" text-anchor="end" font-family="Liberation Serif, serif" font-weight="normal" fill="#111" stroke="#111" stroke-width="0.05" >0.4</text>
<line x1="98.40" y1="104.10" x2="101.40" y2="104.10" stroke="#000" stroke-width="0.7" />
<text transform="translate(96.60,106.90) scale(0.92,1)" font-size="7.2" text-anchor="end" font-family="Liberation Serif, serif" font-weight="normal" fill="#111" stroke="#111" stroke-width="0.05" >0.6</text>
<line x1="98.40" y1="89.50" x2="101.40" y2="89.50" stroke="#000" stroke-width="0.7" />
<text transform="translate(96.60,92.30) scale(0.92,1)" font-size="7.2" text-anchor="end" font-family="Liberation Serif, serif" font-weight="normal" fill="#111" stroke="#111" stroke-width="0.05" >0.8</text>
<line x1="98.40" y1="74.90" x2="101.40" y2="74.90" stroke="#000" stroke-width="0.7" />
<text transform="translate(96.60,77.70) scale(0.92,1)" font-size="7.2" text-anchor="end" font-family="Liberation Serif, serif" font-weight="normal" fill="#111" stroke="#111" stroke-width="0.05" >1.0</text>
<line x1="98.40" y1="60.30" x2="101.40" y2="60.30" stroke="#000" stroke-width="0.7" />
<text transform="translate(96.60,63.10) scale(0.92,1)" font-size="7.2" text-anchor="end" font-family="Liberation Serif, serif" font-weight="normal" fill="#111" stroke="#111" stroke-width="0.05" >1.2</text>
<line x1="98.40" y1="45.70" x2="101.40" y2="45.70" stroke="#000" stroke-width="0.7" />
<text transform="translate(96.60,48.50) scale(0.92,1)" font-size="7.2" text-anchor="end" font-family="Liberation Serif, serif" font-weight="normal" fill="#111" stroke="#111" stroke-width="0.05" >1.4</text>
<line x1="98.40" y1="31.10" x2="101.40" y2="31.10" stroke="#000" stroke-width="0.7" />
<text transform="translate(96.60,34.60) scale(0.92,1)" font-size="7.2" text-anchor="end" font-family="Liberation Serif, serif" font-weight="normal" fill="#111" stroke="#111" stroke-width="0.05" >1.6</text>
<line x1="100.40" y1="148.40" x2="100.40" y2="150.40" stroke="#000" stroke-width="0.7" />
<text transform="translate(100.40,156.80) scale(0.9,1)" font-size="7.6" text-anchor="middle" font-family="Liberation Serif, serif" font-weight="normal" fill="#111" stroke="#111" stroke-width="0.05" >0</text>
<line x1="133.95" y1="148.40" x2="133.95" y2="150.40" stroke="#000" stroke-width="0.7" />
<text transform="translate(133.95,156.80) scale(0.9,1)" font-size="7.6" text-anchor="middle" font-family="Liberation Serif, serif" font-weight="normal" fill="#111" stroke="#111" stroke-width="0.05" >1</text>
<line x1="167.50" y1="148.40" x2="167.50" y2="150.40" stroke="#000" stroke-width="0.7" />
<text transform="translate(167.50,156.80) scale(0.9,1)" font-size="7.6" text-anchor="middle" font-family="Liberation Serif, serif" font-weight="normal" fill="#111" stroke="#111" stroke-width="0.05" >2</text>
<line x1="201.05" y1="148.40" x2="201.05" y2="150.40" stroke="#000" stroke-width="0.7" />
<text transform="translate(201.05,156.80) scale(0.9,1)" font-size="7.6" text-anchor="middle" font-family="Liberation Serif, serif" font-weight="normal" fill="#111" stroke="#111" stroke-width="0.05" >3</text>
<line x1="234.60" y1="148.40" x2="234.60" y2="150.40" stroke="#000" stroke-width="0.7" />
<text transform="translate(234.60,156.80) scale(0.9,1)" font-size="7.6" text-anchor="middle" font-family="Liberation Serif, serif" font-weight="normal" fill="#111" stroke="#111" stroke-width="0.05" >4</text>
<text transform="translate(168.00,166.40) scale(0.875,1)" font-size="10.3" text-anchor="middle" font-family="Liberation Serif, serif" font-weight="normal" fill="#111" stroke="#111" stroke-width="0.22" >Days</text>
<text transform="translate(81.2,81.2) rotate(-90) scale(1,0.9)" font-size="9.35" stroke="#111" stroke-width="0.2" text-anchor="middle" font-family="Liberation Serif, serif" fill="#111">Cell number (10<tspan font-size="7" dy="-3.5">6</tspan><tspan dy="3.5">)</tspan></text>
<line x1="133.95" y1="126.00" x2="133.95" y2="133.30" stroke="#222" stroke-width="0.7" />
<line x1="131.95" y1="126.00" x2="135.95" y2="126.00" stroke="#222" stroke-width="0.7" />
<line x1="131.95" y1="133.30" x2="135.95" y2="133.30" stroke="#222" stroke-width="0.7" />
<line x1="167.50" y1="116.51" x2="167.50" y2="125.27" stroke="#222" stroke-width="0.7" />
<line x1="165.50" y1="116.51" x2="169.50" y2="116.51" stroke="#222" stroke-width="0.7" />
<line x1="165.50" y1="125.27" x2="169.50" y2="125.27" stroke="#222" stroke-width="0.7" />
<line x1="201.05" y1="100.45" x2="201.05" y2="113.59" stroke="#222" stroke-width="0.7" />
<line x1="199.05" y1="100.45" x2="203.05" y2="100.45" stroke="#222" stroke-width="0.7" />
<line x1="199.05" y1="113.59" x2="203.05" y2="113.59" stroke="#222" stroke-width="0.7" />
<line x1="234.60" y1="88.04" x2="234.60" y2="102.64" stroke="#222" stroke-width="0.7" />
<line x1="232.60" y1="88.04" x2="236.60" y2="88.04" stroke="#222" stroke-width="0.7" />
<line x1="232.60" y1="102.64" x2="236.60" y2="102.64" stroke="#222" stroke-width="0.7" />
<polyline points="100.40,144.25 133.95,129.65 167.50,120.89 201.05,107.02 234.60,95.34" fill="none" stroke="#000" stroke-width="1.25" stroke-dasharray="6.5 2.8 1.6 2.8" stroke-linejoin="round"/>
<polygon points="131.55,131.85 133.95,126.75 136.35,131.85" fill="#fff" stroke="#000" stroke-width="0.7"/>
<polygon points="165.10,123.09 167.50,117.99 169.90,123.09" fill="#fff" stroke="#000" stroke-width="0.7"/>
<polygon points="198.65,109.22 201.05,104.12 203.45,109.22" fill="#fff" stroke="#000" stroke-width="0.7"/>
<polygon points="232.20,97.54 234.60,92.44 237.00,97.54" fill="#fff" stroke="#000" stroke-width="0.7"/>
<line x1="133.95" y1="113.59" x2="133.95" y2="120.89" stroke="#222" stroke-width="0.7" />
<line x1="131.95" y1="113.59" x2="135.95" y2="113.59" stroke="#222" stroke-width="0.7" />
<line x1="131.95" y1="120.89" x2="135.95" y2="120.89" stroke="#222" stroke-width="0.7" />
<line x1="167.50" y1="100.45" x2="167.50" y2="110.67" stroke="#222" stroke-width="0.7" />
<line x1="165.50" y1="100.45" x2="169.50" y2="100.45" stroke="#222" stroke-width="0.7" />
<line x1="165.50" y1="110.67" x2="169.50" y2="110.67" stroke="#222" stroke-width="0.7" />
<line x1="234.60" y1="50.08" x2="234.60" y2="70.52" stroke="#222" stroke-width="0.7" />
<line x1="232.60" y1="50.08" x2="236.60" y2="50.08" stroke="#222" stroke-width="0.7" />
<line x1="232.60" y1="70.52" x2="236.60" y2="70.52" stroke="#222" stroke-width="0.7" />
<polyline points="100.40,144.25 133.95,117.24 167.50,105.56 201.05,68.33 234.60,60.30" fill="none" stroke="#000" stroke-width="0.9" stroke-dasharray="1.5 2" stroke-linejoin="round"/>
<rect x="132.05" y="115.34" width="3.8" height="3.8" fill="#fff" stroke="#000" stroke-width="0.7"/>
<rect x="165.60" y="103.66" width="3.8" height="3.8" fill="#fff" stroke="#000" stroke-width="0.7"/>
<rect x="232.50" y="58.20" width="4.2" height="4.2" fill="#000"/>
<polyline points="100.40,144.25 133.95,123.81 167.50,100.45 201.05,68.33 234.60,59.57" fill="none" stroke="#000" stroke-width="1.2" stroke-dasharray="5.5 3" stroke-linejoin="round"/>
<circle cx="133.95" cy="123.81" r="2.3" fill="#000"/>
<circle cx="167.50" cy="100.45" r="2.3" fill="#000"/>
<circle cx="201.05" cy="68.33" r="2.3" fill="#000"/>
<circle cx="234.60" cy="59.57" r="2.3" fill="#000"/>
<line x1="133.95" y1="111.40" x2="133.95" y2="120.16" stroke="#222" stroke-width="0.7" />
<line x1="131.95" y1="111.40" x2="135.95" y2="111.40" stroke="#222" stroke-width="0.7" />
<line x1="131.95" y1="120.16" x2="135.95" y2="120.16" stroke="#222" stroke-width="0.7" />
<line x1="167.50" y1="92.06" x2="167.50" y2="105.19" stroke="#222" stroke-width="0.7" />
<line x1="165.50" y1="92.06" x2="169.50" y2="92.06" stroke="#222" stroke-width="0.7" />
<line x1="165.50" y1="105.19" x2="169.50" y2="105.19" stroke="#222" stroke-width="0.7" />
<line x1="201.05" y1="55.92" x2="201.05" y2="67.60" stroke="#222" stroke-width="0.7" />
<line x1="199.05" y1="55.92" x2="203.05" y2="55.92" stroke="#222" stroke-width="0.7" />
<line x1="199.05" y1="67.60" x2="203.05" y2="67.60" stroke="#222" stroke-width="0.7" />
<line x1="234.60" y1="39.50" x2="234.60" y2="46.80" stroke="#222" stroke-width="0.7" />
<line x1="232.60" y1="39.50" x2="236.60" y2="39.50" stroke="#222" stroke-width="0.7" />
<line x1="232.60" y1="46.80" x2="236.60" y2="46.80" stroke="#222" stroke-width="0.7" />
<polyline points="100.40,144.25 133.95,115.78 167.50,98.62 201.05,61.76 234.60,43.14" fill="none" stroke="#000" stroke-width="1.0" stroke-linejoin="round"/>
<rect x="98.30" y="142.15" width="4.2" height="4.2" fill="#000"/>
<polygon points="131.75,115.78 133.95,113.58 136.15,115.78 133.95,117.98" fill="#000"/>
<polygon points="165.30,98.62 167.50,96.42 169.70,98.62 167.50,100.83" fill="#000"/>
<polygon points="198.85,61.76 201.05,59.56 203.25,61.76 201.05,63.96" fill="#000"/>
<polygon points="232.40,43.14 234.60,40.94 236.80,43.14 234.60,45.34" fill="#000"/>
<line x1="286.60" y1="31.30" x2="286.60" y2="149.40" stroke="#000" stroke-width="1.0" />
<line x1="286.20" y1="149.00" x2="413.30" y2="149.00" stroke="#000" stroke-width="1.0" />
<line x1="284.60" y1="129.16" x2="287.80" y2="129.16" stroke="#000" stroke-width="0.7" />
<text transform="translate(283.80,131.76) scale(0.95,1)" font-size="7.2" text-anchor="end" font-family="Liberation Serif, serif" font-weight="normal" fill="#111" stroke="#111" stroke-width="0.05" >0.2</text>
<line x1="284.60" y1="109.72" x2="287.80" y2="109.72" stroke="#000" stroke-width="0.7" />
<text transform="translate(283.80,112.32) scale(0.95,1)" font-size="7.2" text-anchor="end" font-family="Liberation Serif, serif" font-weight="normal" fill="#111" stroke="#111" stroke-width="0.05" >0.4</text>
<line x1="284.60" y1="90.28" x2="287.80" y2="90.28" stroke="#000" stroke-width="0.7" />
<text transform="translate(283.80,92.88) scale(0.95,1)" font-size="7.2" text-anchor="end" font-family="Liberation Serif, serif" font-weight="normal" fill="#111" stroke="#111" stroke-width="0.05" >0.6</text>
<line x1="284.60" y1="70.84" x2="287.80" y2="70.84" stroke="#000" stroke-width="0.7" />
<text transform="translate(283.80,73.44) scale(0.95,1)" font-size="7.2" text-anchor="end" font-family="Liberation Serif, serif" font-weight="normal" fill="#111" stroke="#111" stroke-width="0.05" >0.8</text>
<line x1="284.60" y1="51.40" x2="287.80" y2="51.40" stroke="#000" stroke-width="0.7" />
<text transform="translate(283.80,54.00) scale(0.95,1)" font-size="7.2" text-anchor="end" font-family="Liberation Serif, serif" font-weight="normal" fill="#111" stroke="#111" stroke-width="0.05" >1.0</text>
<line x1="284.60" y1="31.96" x2="287.80" y2="31.96" stroke="#000" stroke-width="0.7" />
<text transform="translate(283.80,35.76) scale(0.95,1)" font-size="7.2" text-anchor="end" font-family="Liberation Serif, serif" font-weight="normal" fill="#111" stroke="#111" stroke-width="0.05" >1.2</text>
<line x1="286.60" y1="149.00" x2="286.60" y2="151.00" stroke="#000" stroke-width="0.7" />
<text transform="translate(286.60,157.80) scale(0.9,1)" font-size="7.6" text-anchor="middle" font-family="Liberation Serif, serif" font-weight="normal" fill="#111" stroke="#111" stroke-width="0.05" >31</text>
<line x1="318.20" y1="149.00" x2="318.20" y2="151.00" stroke="#000" stroke-width="0.7" />
<text transform="translate(318.20,157.80) scale(0.9,1)" font-size="7.6" text-anchor="middle" font-family="Liberation Serif, serif" font-weight="normal" fill="#111" stroke="#111" stroke-width="0.05" >32</text>
<line x1="349.80" y1="149.00" x2="349.80" y2="151.00" stroke="#000" stroke-width="0.7" />
<text transform="translate(349.80,157.80) scale(0.9,1)" font-size="7.6" text-anchor="middle" font-family="Liberation Serif, serif" font-weight="normal" fill="#111" stroke="#111" stroke-width="0.05" >33</text>
<line x1="381.40" y1="149.00" x2="381.40" y2="151.00" stroke="#000" stroke-width="0.7" />
<text transform="translate(381.40,157.80) scale(0.9,1)" font-size="7.6" text-anchor="middle" font-family="Liberation Serif, serif" font-weight="normal" fill="#111" stroke="#111" stroke-width="0.05" >34</text>
<line x1="413.00" y1="149.00" x2="413.00" y2="151.00" stroke="#000" stroke-width="0.7" />
<text transform="translate(413.00,157.80) scale(0.9,1)" font-size="7.6" text-anchor="middle" font-family="Liberation Serif, serif" font-weight="normal" fill="#111" stroke="#111" stroke-width="0.05" >35</text>
<text transform="translate(348.50,167.20) scale(0.875,1)" font-size="10.3" text-anchor="middle" font-family="Liberation Serif, serif" font-weight="normal" fill="#111" stroke="#111" stroke-width="0.22" >Days</text>
<line x1="413.00" y1="70.84" x2="413.00" y2="88.34" stroke="#222" stroke-width="0.7" />
<line x1="411.00" y1="70.84" x2="415.00" y2="70.84" stroke="#222" stroke-width="0.7" />
<line x1="411.00" y1="88.34" x2="415.00" y2="88.34" stroke="#222" stroke-width="0.7" />
<polyline points="286.60,146.66 318.20,134.02 349.80,116.52 381.40,72.78 413.00,79.59" fill="none" stroke="#000" stroke-width="1.0" stroke-dasharray="7 3" stroke-linejoin="round"/>
<polygon points="410.60,81.79 413.00,76.69 415.40,81.79" fill="#fff" stroke="#000" stroke-width="0.7"/>
<line x1="381.40" y1="65.98" x2="381.40" y2="79.59" stroke="#222" stroke-width="0.7" />
<line x1="379.40" y1="65.98" x2="383.40" y2="65.98" stroke="#222" stroke-width="0.7" />
<line x1="379.40" y1="79.59" x2="383.40" y2="79.59" stroke="#222" stroke-width="0.7" />
<line x1="413.00" y1="50.43" x2="413.00" y2="64.04" stroke="#222" stroke-width="0.7" />
<line x1="411.00" y1="50.43" x2="415.00" y2="50.43" stroke="#222" stroke-width="0.7" />
<line x1="411.00" y1="64.04" x2="415.00" y2="64.04" stroke="#222" stroke-width="0.7" />
<polyline points="286.60,146.66 318.20,134.80 349.80,115.55 381.40,72.78 413.00,57.23" fill="none" stroke="#000" stroke-width="1.15" stroke-dasharray="6 2.5 1.5 2.5" stroke-linejoin="round"/>
<circle cx="318.20" cy="134.80" r="2.0" fill="#fff" stroke="#000" stroke-width="0.7"/>
<rect x="347.90" y="113.65" width="3.8" height="3.8" fill="#fff" stroke="#000" stroke-width="0.7"/>
<rect x="379.50" y="70.88" width="3.8" height="3.8" fill="#fff" stroke="#000" stroke-width="0.7"/>
<rect x="411.10" y="55.33" width="3.8" height="3.8" fill="#fff" stroke="#000" stroke-width="0.7"/>
<line x1="349.80" y1="100.00" x2="349.80" y2="103.89" stroke="#222" stroke-width="0.7" />
<line x1="347.80" y1="100.00" x2="351.80" y2="100.00" stroke="#222" stroke-width="0.7" />
<line x1="347.80" y1="103.89" x2="351.80" y2="103.89" stroke="#222" stroke-width="0.7" />
<polyline points="286.60,146.66 318.20,132.08 349.80,101.94 381.40,84.45 413.00,51.40" fill="none" stroke="#000" stroke-width="1.5" stroke-dasharray="1.8 3.0" stroke-linejoin="round"/>
<circle cx="318.20" cy="132.08" r="2.3" fill="#000"/>
<circle cx="349.80" cy="101.94" r="2.0" fill="#000"/>
<circle cx="381.40" cy="84.45" r="2.3" fill="#000"/>
<circle cx="413.00" cy="51.40" r="2.3" fill="#000"/>
<line x1="381.40" y1="85.42" x2="381.40" y2="97.08" stroke="#222" stroke-width="0.7" />
<line x1="379.40" y1="85.42" x2="383.40" y2="85.42" stroke="#222" stroke-width="0.7" />
<line x1="379.40" y1="97.08" x2="383.40" y2="97.08" stroke="#222" stroke-width="0.7" />
<polyline points="286.60,146.66 318.20,133.05 349.80,117.50 381.40,91.25 413.00,53.34" fill="none" stroke="#000" stroke-width="1.05" stroke-linejoin="round"/>
<rect x="284.50" y="144.56" width="4.2" height="4.2" fill="#000"/>
<circle cx="349.80" cy="117.50" r="2.0" fill="#fff" stroke="#000" stroke-width="0.7"/>
<polygon points="379.20,91.25 381.40,89.05 383.60,91.25 381.40,93.45" fill="#000"/>
<text transform="translate(85.80,218.50) scale(0.93,1)" font-size="9.7" text-anchor="middle" font-family="Liberation Serif, serif" font-weight="normal" fill="#111" stroke="#111" stroke-width="0.4" >Day 4</text>
<text transform="translate(202.10,218.50) scale(0.92,1)" font-size="9.7" text-anchor="middle" font-family="Liberation Serif, serif" font-weight="normal" fill="#111" stroke="#111" stroke-width="0.3" >Day 35</text>
<line x1="20.00" y1="220.70" x2="150.50" y2="220.70" stroke="#222" stroke-width="0.6" />
<line x1="154.00" y1="220.70" x2="251.50" y2="220.70" stroke="#222" stroke-width="0.6" />
<text x="39.50" y="228.50" font-size="7.6" text-anchor="middle" font-family="Liberation Serif, serif" font-weight="normal" fill="#111" stroke="#111" stroke-width="0.22" >APS</text>
<line x1="20.00" y1="229.80" x2="56.50" y2="229.80" stroke="#222" stroke-width="0.55" />
<text x="75.30" y="228.50" font-size="7.6" text-anchor="middle" font-family="Liberation Serif, serif" font-weight="normal" fill="#111" stroke="#111" stroke-width="0.22" >vector</text>
<line x1="61.00" y1="229.80" x2="88.00" y2="229.80" stroke="#222" stroke-width="0.55" />
<text x="102.00" y="228.50" font-size="7.6" text-anchor="middle" font-family="Liberation Serif, serif" font-weight="normal" fill="#111" stroke="#111" stroke-width="0.22" >Lnk</text>
<line x1="91.60" y1="229.80" x2="119.60" y2="229.80" stroke="#222" stroke-width="0.55" />
<text x="135.30" y="228.50" font-size="7.6" text-anchor="middle" font-family="Liberation Serif, serif" font-weight="normal" fill="#111" stroke="#111" stroke-width="0.22" >R364M</text>
<line x1="122.40" y1="229.80" x2="154.20" y2="229.80" stroke="#222" stroke-width="0.55" />
<text x="168.50" y="228.50" font-size="7.6" text-anchor="middle" font-family="Liberation Serif, serif" font-weight="normal" fill="#111" stroke="#111" stroke-width="0.22" >vector</text>
<line x1="156.50" y1="229.80" x2="184.00" y2="229.80" stroke="#222" stroke-width="0.55" />
<text x="201.30" y="228.50" font-size="7.6" text-anchor="middle" font-family="Liberation Serif, serif" font-weight="normal" fill="#111" stroke="#111" stroke-width="0.22" >Lnk</text>
<line x1="188.00" y1="229.80" x2="215.00" y2="229.80" stroke="#222" stroke-width="0.55" />
<text x="234.20" y="228.50" font-size="7.6" text-anchor="middle" font-family="Liberation Serif, serif" font-weight="normal" fill="#111" stroke="#111" stroke-width="0.22" >R364M</text>
<line x1="219.00" y1="229.80" x2="251.50" y2="229.80" stroke="#222" stroke-width="0.55" />
<text x="30.00" y="234.00" font-size="5.0" text-anchor="middle" font-family="Liberation Serif, serif" font-weight="normal" fill="#444" stroke="#444" stroke-width="0.22" >-</text>
<text x="48.00" y="234.00" font-size="5.0" text-anchor="middle" font-family="Liberation Serif, serif" font-weight="normal" fill="#444" stroke="#444" stroke-width="0.22" >+</text>
<text x="67.00" y="234.00" font-size="5.0" text-anchor="middle" font-family="Liberation Serif, serif" font-weight="normal" fill="#444" stroke="#444" stroke-width="0.22" >-</text>
<text x="83.60" y="234.00" font-size="5.0" text-anchor="middle" font-family="Liberation Serif, serif" font-weight="normal" fill="#444" stroke="#444" stroke-width="0.22" >+</text>
<text x="97.00" y="234.00" font-size="5.0" text-anchor="middle" font-family="Liberation Serif, serif" font-weight="normal" fill="#444" stroke="#444" stroke-width="0.22" >-</text>
<text x="112.60" y="234.00" font-size="5.0" text-anchor="middle" font-family="Liberation Serif, serif" font-weight="normal" fill="#444" stroke="#444" stroke-width="0.22" >+</text>
<text x="131.60" y="234.00" font-size="5.0" text-anchor="middle" font-family="Liberation Serif, serif" font-weight="normal" fill="#444" stroke="#444" stroke-width="0.22" >-</text>
<text x="148.40" y="234.00" font-size="5.0" text-anchor="middle" font-family="Liberation Serif, serif" font-weight="normal" fill="#444" stroke="#444" stroke-width="0.22" >+</text>
<text x="162.40" y="234.00" font-size="5.0" text-anchor="middle" font-family="Liberation Serif, serif" font-weight="normal" fill="#444" stroke="#444" stroke-width="0.22" >-</text>
<text x="177.60" y="234.00" font-size="5.0" text-anchor="middle" font-family="Liberation Serif, serif" font-weight="normal" fill="#444" stroke="#444" stroke-width="0.22" >+</text>
<text x="192.00" y="234.00" font-size="5.0" text-anchor="middle" font-family="Liberation Serif, serif" font-weight="normal" fill="#444" stroke="#444" stroke-width="0.22" >-</text>
<text x="209.60" y="234.00" font-size="5.0" text-anchor="middle" font-family="Liberation Serif, serif" font-weight="normal" fill="#444" stroke="#444" stroke-width="0.22" >+</text>
<text x="227.00" y="234.00" font-size="5.0" text-anchor="middle" font-family="Liberation Serif, serif" font-weight="normal" fill="#444" stroke="#444" stroke-width="0.22" >-</text>
<text x="243.00" y="234.00" font-size="5.0" text-anchor="middle" font-family="Liberation Serif, serif" font-weight="normal" fill="#444" stroke="#444" stroke-width="0.22" >+</text>
<text transform="translate(255.80,234.10) scale(0.95,1)" font-size="5.9" text-anchor="start" font-family="Liberation Serif, serif" font-weight="normal" fill="#222" stroke="#222" stroke-width="0.22" >EPO</text>
<text x="256.00" y="244.30" font-size="7.6" text-anchor="start" font-family="Liberation Serif, serif" font-weight="normal" fill="#111" stroke="#111" stroke-width="0.22" >Lnk</text>
<text x="256.00" y="261.00" font-size="7.6" text-anchor="start" font-family="Liberation Serif, serif" font-weight="normal" fill="#111" stroke="#111" stroke-width="0.22" >actin</text>
<text x="9.50" y="240.20" font-size="7.6" text-anchor="middle" font-family="Liberation Serif, serif" font-weight="normal" fill="#111" stroke="#111" stroke-width="0.22" >IP</text>
<text x="10.30" y="247.00" font-size="7.6" text-anchor="middle" font-family="Liberation Serif, serif" font-weight="normal" fill="#111" stroke="#111" stroke-width="0.22" >APS</text>
<clipPath id="c1"><rect x="19.80" y="234.40" width="37.20" height="16.00"/></clipPath>
<rect x="19.80" y="234.40" width="37.20" height="16.00" fill="#c4c4c4" />
<g clip-path="url(#c1)">
<rect x="22.75" y="241.00" width="14.50" height="3.20" rx="1.50" fill="#111" opacity="0.95" filter="url(#b1)"/>
<rect x="40.75" y="241.10" width="14.50" height="3.00" rx="1.50" fill="#181818" opacity="0.92" filter="url(#b1)"/>
<rect x="28.50" y="245.40" width="9.00" height="1.20" rx="0.60" fill="#666" opacity="0.45" filter="url(#b1)"/>
<rect x="46.50" y="245.40" width="9.00" height="1.20" rx="0.60" fill="#666" opacity="0.45" filter="url(#b1)"/>
</g>
<clipPath id="c2"><rect x="60.40" y="234.30" width="193.00" height="16.80"/></clipPath>
<rect x="60.40" y="234.30" width="193.00" height="16.80" fill="#e9e9e9" />
<g clip-path="url(#c2)">
<rect x="60.40" y="234.30" width="62.00" height="16.80" fill="#e2e2e2" />
<rect x="77.50" y="248.80" width="11.00" height="1.60" rx="0.80" fill="#888" opacity="0.3" filter="url(#b1)"/>
<rect x="92.50" y="248.10" width="13.00" height="2.40" rx="1.20" fill="#777" opacity="0.22" filter="url(#b1)"/>
<rect x="107.50" y="248.10" width="13.00" height="2.40" rx="1.20" fill="#666" opacity="0.25" filter="url(#b1)"/>
<rect x="63.50" y="235.20" width="5.00" height="0.80" rx="0.40" fill="#777" opacity="0.5" filter="url(#b1)"/>
<rect x="91.50" y="236.80" width="14.80" height="7.20" rx="1.50" fill="#0c0c0c" opacity="1" filter="url(#b2)"/>
<rect x="106.20" y="236.40" width="14.80" height="7.60" rx="1.50" fill="#0a0a0a" opacity="1" filter="url(#b2)"/>
<rect x="103.50" y="238.80" width="6.00" height="4.00" rx="1.50" fill="#222" opacity="0.9" filter="url(#b2)"/>
<rect x="122.00" y="235.50" width="36.00" height="12.20" rx="1.50" fill="#121212" opacity="1" filter="url(#b2)"/>
<polygon points="150,235.6 155.5,236.4 159.4,242 155.5,247.6 150,248" fill="#121212" filter="url(#b2)"/>
<rect x="123.50" y="244.90" width="16.00" height="5.40" rx="1.50" fill="#101010" opacity="1" filter="url(#b2)"/>
<rect x="141.00" y="244.90" width="15.00" height="5.40" rx="1.50" fill="#101010" opacity="1" filter="url(#b2)"/>
<rect x="187.40" y="238.30" width="12.00" height="2.60" rx="1.30" fill="#666" opacity="0.65" filter="url(#b1)"/>
<rect x="203.70" y="238.30" width="12.40" height="2.60" rx="1.30" fill="#666" opacity="0.65" filter="url(#b1)"/>
<rect x="218.30" y="234.90" width="17.00" height="9.60" rx="1.50" fill="#050505" opacity="1" filter="url(#b2)"/>
<rect x="234.80" y="234.90" width="16.40" height="9.60" rx="1.50" fill="#050505" opacity="1" filter="url(#b2)"/>
<rect x="229.00" y="235.50" width="12.00" height="8.40" rx="1.50" fill="#0a0a0a" opacity="1" filter="url(#b2)"/>
<rect x="221.00" y="244.60" width="12.00" height="3.60" rx="1.50" fill="#333" opacity="0.85" filter="url(#b2)"/>
<rect x="236.25" y="244.60" width="11.50" height="3.60" rx="1.50" fill="#333" opacity="0.85" filter="url(#b2)"/>
</g>
<clipPath id="c3"><rect x="60.40" y="253.10" width="193.00" height="13.00"/></clipPath>
<rect x="60.40" y="253.10" width="193.00" height="13.00" fill="#dadada" />
<g clip-path="url(#c3)">
<rect x="186.00" y="253.10" width="67.40" height="13.00" fill="#d2d2d2" />
<rect x="61.00" y="257.35" width="12.80" height="4.10" rx="1.50" fill="#262626" opacity="0.9" filter="url(#b4)"/>
<rect x="76.50" y="257.15" width="13.60" height="4.50" rx="1.50" fill="#1c1c1c" opacity="0.9" filter="url(#b4)"/>
<rect x="92.10" y="257.35" width="13.40" height="4.10" rx="1.50" fill="#242424" opacity="0.9" filter="url(#b4)"/>
<rect x="107.50" y="257.75" width="13.00" height="3.70" rx="1.50" fill="#2c2c2c" opacity="0.9" filter="url(#b4)"/>
<rect x="124.70" y="258.15" width="12.00" height="3.70" rx="1.50" fill="#2a2a2a" opacity="0.9" filter="url(#b4)"/>
<rect x="141.15" y="258.65" width="10.50" height="3.10" rx="1.50" fill="#3a3a3a" opacity="0.9" filter="url(#b4)"/>
<rect x="157.50" y="258.45" width="11.40" height="3.10" rx="1.50" fill="#3a3a3a" opacity="0.9" filter="url(#b4)"/>
<rect x="172.00" y="257.95" width="12.00" height="3.30" rx="1.50" fill="#303030" opacity="0.9" filter="url(#b4)"/>
<rect x="186.50" y="256.95" width="15.00" height="4.10" rx="1.50" fill="#1a1a1a" opacity="0.9" filter="url(#b4)"/>
<rect x="201.50" y="256.55" width="17.00" height="4.10" rx="1.50" fill="#1a1a1a" opacity="0.9" filter="url(#b4)"/>
<rect x="217.50" y="255.35" width="18.00" height="5.30" rx="1.50" fill="#0c0c0c" opacity="0.9" filter="url(#b4)"/>
<rect x="235.00" y="256.45" width="17.00" height="4.30" rx="1.50" fill="#151515" opacity="0.9" filter="url(#b4)"/>
<rect x="207.00" y="253.80" width="12.00" height="1.20" rx="0.60" fill="#777" opacity="0.45" filter="url(#b1)"/>
</g>
<text x="370.80" y="218.80" font-size="9.5" text-anchor="middle" font-family="Liberation Serif, serif" font-weight="normal" fill="#111" stroke="#111" stroke-width="0.22" >Day 4</text>
<text x="472.60" y="218.80" font-size="9.5" text-anchor="middle" font-family="Liberation Serif, serif" font-weight="normal" fill="#111" stroke="#111" stroke-width="0.22" >Day 35</text>
<line x1="317.00" y1="222.30" x2="426.00" y2="222.30" stroke="#222" stroke-width="0.6" />
<line x1="431.00" y1="222.30" x2="503.20" y2="222.30" stroke="#222" stroke-width="0.6" />
<text x="334.00" y="232.40" font-size="7.6" text-anchor="middle" font-family="Liberation Serif, serif" font-weight="normal" fill="#111" stroke="#111" stroke-width="0.22" >vector</text>
<line x1="318.00" y1="233.60" x2="347.00" y2="233.60" stroke="#222" stroke-width="0.55" />
<text x="362.40" y="232.40" font-size="7.6" text-anchor="middle" font-family="Liberation Serif, serif" font-weight="normal" fill="#111" stroke="#111" stroke-width="0.22" >Lnk</text>
<line x1="349.00" y1="233.60" x2="375.00" y2="233.60" stroke="#222" stroke-width="0.55" />
<text x="390.60" y="232.40" font-size="7.6" text-anchor="middle" font-family="Liberation Serif, serif" font-weight="normal" fill="#111" stroke="#111" stroke-width="0.22" >R364M</text>
<line x1="377.00" y1="233.60" x2="404.50" y2="233.60" stroke="#222" stroke-width="0.55" />
<text x="414.50" y="232.40" font-size="7.6" text-anchor="middle" font-family="Liberation Serif, serif" font-weight="normal" fill="#111" stroke="#111" stroke-width="0.22" >APS</text>
<line x1="407.00" y1="233.60" x2="426.00" y2="233.60" stroke="#222" stroke-width="0.55" />
<text x="442.20" y="232.40" font-size="7.6" text-anchor="middle" font-family="Liberation Serif, serif" font-weight="normal" fill="#111" stroke="#111" stroke-width="0.22" >vector</text>
<text x="462.70" y="232.40" font-size="7.6" text-anchor="middle" font-family="Liberation Serif, serif" font-weight="normal" fill="#111" stroke="#111" stroke-width="0.22" >Lnk</text>
<line x1="452.00" y1="233.60" x2="476.00" y2="233.60" stroke="#222" stroke-width="0.55" />
<text x="490.70" y="232.40" font-size="7.6" text-anchor="middle" font-family="Liberation Serif, serif" font-weight="normal" fill="#111" stroke="#111" stroke-width="0.22" >R364M</text>
<line x1="479.00" y1="233.60" x2="503.20" y2="233.60" stroke="#222" stroke-width="0.55" />
<line x1="325.60" y1="239.00" x2="328.00" y2="239.00" stroke="#222" stroke-width="0.9" />
<line x1="339.90" y1="238.40" x2="343.30" y2="238.40" stroke="#333" stroke-width="0.6" />
<line x1="341.60" y1="236.70" x2="341.60" y2="240.10" stroke="#333" stroke-width="0.6" />
<line x1="354.10" y1="239.00" x2="356.50" y2="239.00" stroke="#222" stroke-width="0.9" />
<line x1="366.90" y1="238.40" x2="370.30" y2="238.40" stroke="#333" stroke-width="0.6" />
<line x1="368.60" y1="236.70" x2="368.60" y2="240.10" stroke="#333" stroke-width="0.6" />
<line x1="380.60" y1="239.00" x2="383.00" y2="239.00" stroke="#222" stroke-width="0.9" />
<line x1="393.70" y1="238.40" x2="397.10" y2="238.40" stroke="#333" stroke-width="0.6" />
<line x1="395.40" y1="236.70" x2="395.40" y2="240.10" stroke="#333" stroke-width="0.6" />
<line x1="405.80" y1="239.00" x2="408.20" y2="239.00" stroke="#222" stroke-width="0.9" />
<line x1="418.30" y1="238.40" x2="421.70" y2="238.40" stroke="#333" stroke-width="0.6" />
<line x1="420.00" y1="236.70" x2="420.00" y2="240.10" stroke="#333" stroke-width="0.6" />
<line x1="442.90" y1="238.00" x2="446.30" y2="238.00" stroke="#333" stroke-width="0.6" />
<line x1="444.60" y1="236.30" x2="444.60" y2="239.70" stroke="#333" stroke-width="0.6" />
<line x1="456.40" y1="238.60" x2="458.80" y2="238.60" stroke="#222" stroke-width="0.9" />
<line x1="469.30" y1="238.00" x2="472.70" y2="238.00" stroke="#333" stroke-width="0.6" />
<line x1="471.00" y1="236.30" x2="471.00" y2="239.70" stroke="#333" stroke-width="0.6" />
<line x1="483.40" y1="238.60" x2="485.80" y2="238.60" stroke="#222" stroke-width="0.9" />
<line x1="494.90" y1="238.00" x2="498.30" y2="238.00" stroke="#333" stroke-width="0.6" />
<line x1="496.60" y1="236.30" x2="496.60" y2="239.70" stroke="#333" stroke-width="0.6" />
<text transform="translate(504.40,240.10) scale(0.92,1)" font-size="6.0" text-anchor="start" font-family="Liberation Serif, serif" font-weight="normal" fill="#222" stroke="#222" stroke-width="0.22" >EPO</text>
<text x="315.50" y="251.10" font-size="7.8" text-anchor="end" font-family="Liberation Serif, serif" font-weight="normal" fill="#111" stroke="#111" stroke-width="0.22" >p-JAK2</text>
<text x="315.50" y="263.20" font-size="7.8" text-anchor="end" font-family="Liberation Serif, serif" font-weight="normal" fill="#111" stroke="#111" stroke-width="0.22" >JAK2</text>
<text x="315.50" y="283.90" font-size="7.8" text-anchor="end" font-family="Liberation Serif, serif" font-weight="normal" fill="#111" stroke="#111" stroke-width="0.22" >p-STAT5</text>
<text x="315.50" y="297.00" font-size="7.8" text-anchor="end" font-family="Liberation Serif, serif" font-weight="normal" fill="#111" stroke="#111" stroke-width="0.22" >STAT5</text>
<text x="315.50" y="311.70" font-size="7.8" text-anchor="end" font-family="Liberation Serif, serif" font-weight="normal" fill="#111" stroke="#111" stroke-width="0.22" >p-Erk</text>
<text x="315.50" y="325.00" font-size="7.8" text-anchor="end" font-family="Liberation Serif, serif" font-weight="normal" fill="#111" stroke="#111" stroke-width="0.22" >Erk</text>
<clipPath id="d1"><rect x="318.20" y="241.60" width="107.60" height="12.40"/></clipPath>
<rect x="318.20" y="241.60" width="107.60" height="12.40" fill="#dbdbdb" />
<g clip-path="url(#d1)">
<rect x="319.30" y="245.60" width="15.00" height="3.80" rx="1.50" fill="#333" opacity="0.95" filter="url(#b2)"/>
<rect x="335.35" y="245.70" width="12.50" height="4.00" rx="1.50" fill="#2c2c2c" opacity="0.95" filter="url(#b2)"/>
<rect x="350.30" y="247.50" width="10.00" height="2.40" rx="1.20" fill="#888" opacity="0.6" filter="url(#b2)"/>
<rect x="362.60" y="246.70" width="12.00" height="3.20" rx="1.50" fill="#555" opacity="0.85" filter="url(#b2)"/>
<rect x="376.55" y="247.90" width="10.50" height="2.80" rx="1.40" fill="#777" opacity="0.7" filter="url(#b2)"/>
<rect x="390.15" y="247.60" width="10.50" height="2.80" rx="1.40" fill="#666" opacity="0.8" filter="url(#b2)"/>
<rect x="401.50" y="247.20" width="11.00" height="3.00" rx="1.50" fill="#555" opacity="0.85" filter="url(#b2)"/>
<rect x="414.00" y="245.90" width="12.00" height="3.60" rx="1.50" fill="#333" opacity="0.95" filter="url(#b2)"/>
<rect x="373.70" y="241.60" width="0.70" height="12.40" fill="#ededed" />
</g>
<clipPath id="d2"><rect x="318.20" y="255.40" width="107.60" height="12.00"/></clipPath>
<rect x="318.20" y="255.40" width="107.60" height="12.00" fill="#cecece" />
<g clip-path="url(#d2)">
<rect x="319.55" y="258.40" width="14.50" height="5.00" rx="1.50" fill="#262626" opacity="1" filter="url(#b2)"/>
<rect x="334.60" y="258.30" width="14.00" height="5.20" rx="1.50" fill="#222" opacity="1" filter="url(#b2)"/>
<rect x="348.80" y="259.00" width="13.00" height="4.60" rx="1.50" fill="#2c2c2c" opacity="1" filter="url(#b2)"/>
<rect x="362.10" y="258.80" width="13.00" height="5.00" rx="1.50" fill="#262626" opacity="1" filter="url(#b2)"/>
<rect x="375.30" y="259.00" width="13.00" height="4.80" rx="1.50" fill="#2a2a2a" opacity="1" filter="url(#b2)"/>
<rect x="389.40" y="259.20" width="12.00" height="4.40" rx="1.50" fill="#303030" opacity="1" filter="url(#b2)"/>
<rect x="400.50" y="258.60" width="13.00" height="5.20" rx="1.50" fill="#222" opacity="1" filter="url(#b2)"/>
<rect x="413.50" y="258.40" width="13.00" height="5.40" rx="1.50" fill="#1e1e1e" opacity="1" filter="url(#b2)"/>
<rect x="320.05" y="264.30" width="13.50" height="1.80" rx="0.90" fill="#444" opacity="0.8" filter="url(#b2)"/>
<rect x="334.85" y="264.30" width="13.50" height="1.80" rx="0.90" fill="#444" opacity="0.8" filter="url(#b2)"/>
<rect x="348.55" y="264.30" width="13.50" height="1.80" rx="0.90" fill="#444" opacity="0.8" filter="url(#b2)"/>
<rect x="361.85" y="264.30" width="13.50" height="1.80" rx="0.90" fill="#444" opacity="0.8" filter="url(#b2)"/>
<rect x="375.05" y="264.30" width="13.50" height="1.80" rx="0.90" fill="#444" opacity="0.8" filter="url(#b2)"/>
<rect x="388.65" y="264.30" width="13.50" height="1.80" rx="0.90" fill="#444" opacity="0.8" filter="url(#b2)"/>
<rect x="400.25" y="264.30" width="13.50" height="1.80" rx="0.90" fill="#444" opacity="0.8" filter="url(#b2)"/>
<rect x="413.25" y="264.30" width="13.50" height="1.80" rx="0.90" fill="#444" opacity="0.8" filter="url(#b2)"/>
<rect x="373.70" y="255.40" width="0.70" height="12.00" fill="#ededed" />
</g>
<clipPath id="d3"><rect x="318.20" y="275.50" width="107.60" height="11.20"/></clipPath>
<rect x="318.20" y="275.50" width="107.60" height="11.20" fill="#c6c6c6" />
<g clip-path="url(#d3)">
<rect x="401.00" y="275.50" width="25.00" height="11.20" fill="#cdcdcd" />
<rect x="319.55" y="277.15" width="14.50" height="1.70" rx="0.85" fill="#444" opacity="0.85" filter="url(#b4)"/>
<rect x="334.85" y="278.15" width="13.50" height="2.50" rx="1.25" fill="#262626" opacity="1" filter="url(#b4)"/>
<rect x="362.60" y="279.45" width="12.00" height="1.90" rx="0.95" fill="#666" opacity="0.8" filter="url(#b4)"/>
<rect x="376.80" y="279.90" width="10.00" height="1.00" rx="0.50" fill="#999" opacity="0.5" filter="url(#b4)"/>
<rect x="389.65" y="279.20" width="11.50" height="2.20" rx="1.10" fill="#2e2e2e" opacity="0.95" filter="url(#b4)"/>
<rect x="402.00" y="278.70" width="10.00" height="1.00" rx="0.50" fill="#888" opacity="0.6" filter="url(#b4)"/>
<rect x="413.50" y="276.80" width="13.00" height="2.40" rx="1.20" fill="#2a2a2a" opacity="0.95" filter="url(#b4)"/>
<rect x="389.50" y="283.80" width="9.00" height="1.20" rx="0.60" fill="#888" opacity="0.6" filter="url(#b1)"/>
<rect x="400.10" y="275.50" width="0.80" height="11.20" fill="#ededed" />
</g>
<clipPath id="d4"><rect x="318.20" y="289.00" width="107.60" height="10.40"/></clipPath>
<rect x="318.20" y="289.00" width="107.60" height="10.40" fill="#5e5e5e" />
<g clip-path="url(#d4)">
<rect x="314.20" y="291.40" width="115.60" height="5.60" rx="1.50" fill="#3a3a3a" opacity="1" filter="url(#b2)"/>
<rect x="400.50" y="290.50" width="26.00" height="7.00" rx="1.50" fill="#303030" opacity="0.55" filter="url(#b2)"/>
<rect x="321.50" y="290.60" width="5.00" height="0.80" rx="0.40" fill="#8a8a8a" opacity="0.6" filter="url(#b1)"/>
<rect x="330.50" y="291.00" width="5.00" height="0.80" rx="0.40" fill="#8a8a8a" opacity="0.6" filter="url(#b1)"/>
<rect x="342.50" y="291.40" width="5.00" height="0.80" rx="0.40" fill="#8a8a8a" opacity="0.6" filter="url(#b1)"/>
<rect x="354.50" y="290.60" width="5.00" height="0.80" rx="0.40" fill="#8a8a8a" opacity="0.6" filter="url(#b1)"/>
<rect x="363.50" y="291.00" width="5.00" height="0.80" rx="0.40" fill="#8a8a8a" opacity="0.6" filter="url(#b1)"/>
<rect x="375.50" y="291.40" width="5.00" height="0.80" rx="0.40" fill="#8a8a8a" opacity="0.6" filter="url(#b1)"/>
<rect x="385.50" y="290.60" width="5.00" height="0.80" rx="0.40" fill="#8a8a8a" opacity="0.6" filter="url(#b1)"/>
<rect x="393.50" y="291.00" width="5.00" height="0.80" rx="0.40" fill="#8a8a8a" opacity="0.6" filter="url(#b1)"/>
<rect x="400.10" y="289.00" width="0.80" height="10.40" fill="#ededed" />
</g>
<clipPath id="d5"><rect x="318.20" y="302.80" width="107.60" height="11.70"/></clipPath>
<rect x="318.20" y="302.80" width="107.60" height="11.70" fill="#d2d2d2" />
<g clip-path="url(#d5)">
<rect x="321.30" y="304.65" width="11.00" height="1.90" rx="0.95" fill="#777" opacity="0.8" filter="url(#b4)"/>
<rect x="336.10" y="305.65" width="11.00" height="1.90" rx="0.95" fill="#888" opacity="0.8" filter="url(#b4)"/>
<rect x="390.40" y="305.80" width="10.00" height="1.60" rx="0.80" fill="#888" opacity="0.6" filter="url(#b4)"/>
<rect x="402.50" y="305.90" width="9.00" height="1.40" rx="0.70" fill="#999" opacity="0.6" filter="url(#b4)"/>
<rect x="414.00" y="305.15" width="12.00" height="2.30" rx="1.15" fill="#3a3a3a" opacity="0.9" filter="url(#b4)"/>
<rect x="320.80" y="309.05" width="12.00" height="2.30" rx="1.15" fill="#555" opacity="0.9" filter="url(#b4)"/>
<rect x="334.85" y="309.30" width="13.50" height="2.20" rx="1.10" fill="#343434" opacity="0.95" filter="url(#b4)"/>
<rect x="351.30" y="310.30" width="8.00" height="1.00" rx="0.50" fill="#aaa" opacity="0.4" filter="url(#b4)"/>
<rect x="363.60" y="310.50" width="10.00" height="1.00" rx="0.50" fill="#aaa" opacity="0.5" filter="url(#b4)"/>
<rect x="376.80" y="310.70" width="10.00" height="1.00" rx="0.50" fill="#aaa" opacity="0.5" filter="url(#b4)"/>
<rect x="389.90" y="310.75" width="11.00" height="2.10" rx="1.05" fill="#555" opacity="0.85" filter="url(#b4)"/>
<rect x="402.00" y="310.85" width="10.00" height="1.90" rx="0.95" fill="#666" opacity="0.8" filter="url(#b4)"/>
<rect x="413.75" y="310.35" width="12.50" height="2.70" rx="1.35" fill="#2a2a2a" opacity="0.95" filter="url(#b4)"/>
<rect x="400.10" y="302.80" width="0.80" height="11.70" fill="#ededed" />
</g>
<clipPath id="d6"><rect x="318.20" y="316.80" width="107.60" height="10.70"/></clipPath>
<rect x="318.20" y="316.80" width="107.60" height="10.70" fill="#bdbdbd" />
<g clip-path="url(#d6)">
<rect x="314.20" y="319.50" width="115.60" height="5.60" rx="1.50" fill="#222" opacity="1" filter="url(#b2)"/>
<rect x="400.10" y="316.80" width="0.80" height="10.70" fill="#ededed" />
</g>
<clipPath id="e1"><rect x="439.40" y="242.00" width="63.50" height="11.40"/></clipPath>
<rect x="439.40" y="242.00" width="63.50" height="11.40" fill="#d2d2d2" />
<g clip-path="url(#e1)">
<rect x="440.85" y="247.20" width="7.50" height="3.00" rx="1.50" fill="#888" opacity="0.7" filter="url(#b2)"/>
<rect x="451.60" y="245.70" width="12.00" height="4.80" rx="1.50" fill="#303030" opacity="0.95" filter="url(#b2)"/>
<rect x="465.30" y="245.20" width="11.40" height="5.80" rx="1.50" fill="#1e1e1e" opacity="1" filter="url(#b2)"/>
<rect x="479.35" y="246.50" width="10.50" height="3.60" rx="1.50" fill="#6a6a6a" opacity="0.8" filter="url(#b2)"/>
<rect x="491.35" y="246.50" width="10.50" height="3.60" rx="1.50" fill="#707070" opacity="0.8" filter="url(#b2)"/>
</g>
<clipPath id="e2"><rect x="439.40" y="255.00" width="63.50" height="12.10"/></clipPath>
<rect x="439.40" y="255.00" width="63.50" height="12.10" fill="#bcbcbc" />
<g clip-path="url(#e2)">
<rect x="439.40" y="255.00" width="63.50" height="3.00" fill="#a8a8a8" filter="url(#b2)"/>
<rect x="440.35" y="258.50" width="8.50" height="7.60" rx="1.50" fill="#262626" opacity="1" filter="url(#b2)"/>
<rect x="451.80" y="258.60" width="11.60" height="7.40" rx="1.50" fill="#2a2a2a" opacity="1" filter="url(#b2)"/>
<rect x="465.40" y="258.40" width="11.20" height="7.80" rx="1.50" fill="#242424" opacity="1" filter="url(#b2)"/>
<rect x="479.10" y="258.50" width="11.00" height="7.60" rx="1.50" fill="#282828" opacity="1" filter="url(#b2)"/>
<rect x="491.20" y="258.60" width="10.80" height="7.40" rx="1.50" fill="#2a2a2a" opacity="1" filter="url(#b2)"/>
</g>
<clipPath id="e3"><rect x="439.40" y="275.00" width="63.50" height="11.60"/></clipPath>
<rect x="439.40" y="275.00" width="63.50" height="11.60" fill="#e2e2e2" />
<g clip-path="url(#e3)">
<rect x="440.30" y="278.80" width="8.60" height="5.40" rx="1.50" fill="#1c1c1c" opacity="1" filter="url(#b2)"/>
<rect x="451.80" y="279.80" width="11.60" height="3.00" rx="1.50" fill="#262626" opacity="0.95" filter="url(#b2)"/>
<rect x="465.40" y="278.80" width="11.20" height="5.00" rx="1.50" fill="#1c1c1c" opacity="1" filter="url(#b2)"/>
<rect x="480.35" y="279.80" width="8.50" height="1.40" rx="0.70" fill="#888" opacity="0.7" filter="url(#b2)"/>
<rect x="491.20" y="278.60" width="10.80" height="3.00" rx="1.50" fill="#222" opacity="0.95" filter="url(#b2)"/>
</g>
<clipPath id="e4"><rect x="439.40" y="287.80" width="63.50" height="10.90"/></clipPath>
<rect x="439.40" y="287.80" width="63.50" height="10.90" fill="#dcdcdc" />
<g clip-path="url(#e4)">
<rect x="440.20" y="289.40" width="8.80" height="7.40" rx="1.50" fill="#202020" opacity="1" filter="url(#b2)"/>
<rect x="451.70" y="289.60" width="11.80" height="7.00" rx="1.50" fill="#222" opacity="1" filter="url(#b2)"/>
<rect x="465.20" y="289.40" width="11.60" height="7.40" rx="1.50" fill="#202020" opacity="1" filter="url(#b2)"/>
<rect x="478.90" y="289.60" width="11.40" height="7.40" rx="1.50" fill="#202020" opacity="1" filter="url(#b2)"/>
<rect x="491.10" y="289.60" width="11.00" height="7.40" rx="1.50" fill="#222" opacity="1" filter="url(#b2)"/>
</g>
<clipPath id="e5"><rect x="439.40" y="302.50" width="63.50" height="11.20"/></clipPath>
<rect x="439.40" y="302.50" width="63.50" height="11.20" fill="#cacaca" />
<g clip-path="url(#e5)">
<rect x="440.70" y="305.40" width="7.80" height="2.60" rx="1.30" fill="#303030" opacity="0.95" filter="url(#b2)"/>
<rect x="452.35" y="305.70" width="10.50" height="2.00" rx="1.00" fill="#5a5a5a" opacity="0.85" filter="url(#b2)"/>
<rect x="465.50" y="305.55" width="11.00" height="2.30" rx="1.15" fill="#404040" opacity="0.95" filter="url(#b2)"/>
<rect x="478.80" y="305.35" width="11.60" height="2.70" rx="1.35" fill="#2a2a2a" opacity="1" filter="url(#b2)"/>
<rect x="490.80" y="305.25" width="11.60" height="2.90" rx="1.45" fill="#222" opacity="1" filter="url(#b2)"/>
<rect x="441.00" y="309.70" width="7.20" height="2.40" rx="1.20" fill="#404040" opacity="0.95" filter="url(#b2)"/>
<rect x="453.10" y="310.30" width="9.00" height="1.20" rx="0.60" fill="#999" opacity="0.5" filter="url(#b2)"/>
<rect x="466.50" y="310.30" width="9.00" height="1.20" rx="0.60" fill="#999" opacity="0.5" filter="url(#b2)"/>
<rect x="478.80" y="309.50" width="11.60" height="2.80" rx="1.40" fill="#262626" opacity="1" filter="url(#b2)"/>
<rect x="490.80" y="309.50" width="11.60" height="2.80" rx="1.40" fill="#222" opacity="1" filter="url(#b2)"/>
</g>
<clipPath id="e6"><rect x="439.40" y="316.30" width="63.50" height="10.40"/></clipPath>
<rect x="439.40" y="316.30" width="63.50" height="10.40" fill="#c2c2c2" />
<g clip-path="url(#e6)">
<rect x="435.40" y="318.40" width="71.50" height="6.20" rx="1.50" fill="#1a1a1a" opacity="1" filter="url(#b2)"/>
</g>
</g>
</svg>
</body></html>
